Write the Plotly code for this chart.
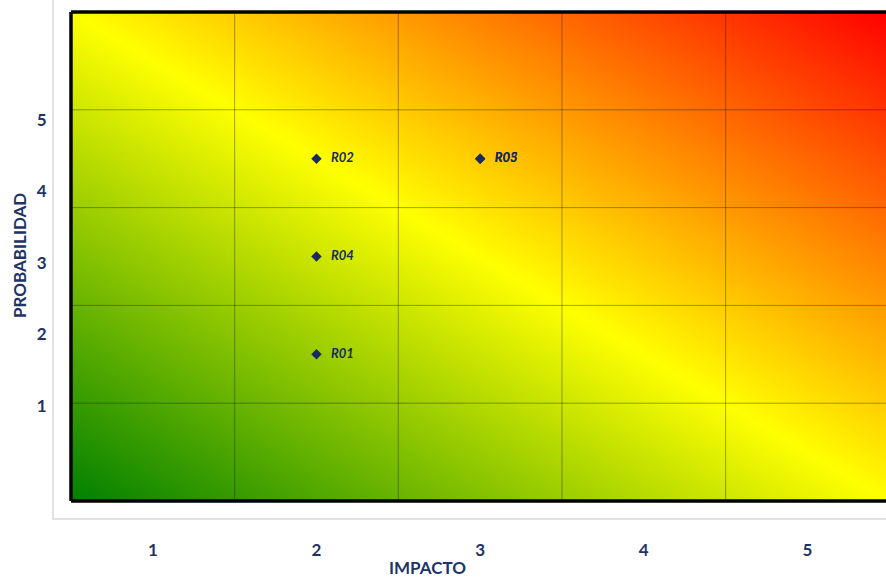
import plotly.graph_objects as go

# ---- data ----
risk_ids = ["R01", "R02", "R03", "R04", "R05"]
impacto = [2, 2, 3, 2, 3]
probabilidad = [2, 4, 4, 3, 4]
impact_levels = [1, 2, 3, 4, 5]
prob_levels = [1, 2, 3, 4, 5]
impact_labels = ["1", "2", "3", "4", "5"]
prob_labels = ["1", "2", "3", "4", "5"]

# background gradient corners (low risk -> high risk)
gradient_z = [[0.0, 0.5], [0.5, 1.0]]

NAVY = "#1F3366"
FONT = "Lato"

lo = impact_levels[0] - 0.5
hi = impact_levels[-1] + 0.5

fig = go.Figure()

# diagonal green-yellow-red background
fig.add_trace(go.Heatmap(
    x=[lo, hi], y=[lo, hi], z=gradient_z,
    zmin=0, zmax=1, zsmooth="best",
    colorscale=[[0, "#008000"], [0.5, "#FFFF00"], [1, "#FF0000"]],
    showscale=False, hoverinfo="skip",
))

# risk points
fig.add_trace(go.Scatter(
    x=impacto, y=probabilidad, mode="markers+text",
    text=["   " + r for r in risk_ids], textposition="middle right",
    textfont=dict(family=FONT, size=13, color="#1A2A5E", weight="bold", style="italic"),
    marker=dict(symbol="diamond", size=8, color="#1A2A5E"),
    hoverinfo="text", showlegend=False,
))

# invisible trace to activate the secondary y axis for labels
fig.add_trace(go.Scatter(x=[None], y=[None], yaxis="y2", showlegend=False,
                         hoverinfo="skip"))

shapes = []
# white frame
shapes.append(dict(type="rect", xref="paper", yref="paper",
                   x0=-0.0221, x1=1.05, y0=-0.0368, y1=1.05,
                   line=dict(color="#D9D9D9", width=1.5), fillcolor="white",
                   layer="below"))
# inner grid
for b in impact_levels[:-1]:
    shapes.append(dict(type="line", xref="x", yref="paper", x0=b + 0.5, x1=b + 0.5,
                       y0=0, y1=1, line=dict(color="rgba(20,20,0,0.38)", width=1),
                       layer="above"))
for b in prob_levels[:-1]:
    shapes.append(dict(type="line", xref="paper", yref="y", x0=0, x1=1,
                       y0=b + 0.5, y1=b + 0.5,
                       line=dict(color="rgba(20,20,0,0.38)", width=1), layer="above"))
# thick border (left, top, bottom)
for s in [dict(x0=0, x1=0, y0=0, y1=1), dict(x0=0, x1=1.01, y0=1, y1=1),
          dict(x0=0, x1=1.01, y0=0, y1=0)]:
    shapes.append(dict(type="line", xref="paper", yref="paper",
                       line=dict(color="black", width=3.5), layer="above", **s))

fig.update_layout(
    width=886, height=579,
    margin=dict(l=71, r=0, t=12, b=78),
    paper_bgcolor="white", plot_bgcolor="white",
    showlegend=False,
    shapes=shapes,
    xaxis=dict(range=[lo, hi - 0.02], tickvals=impact_levels, ticktext=impact_labels,
               showgrid=False, zeroline=False, showline=False,
               ticks="outside", ticklen=34, tickcolor="rgba(0,0,0,0)",
               tickfont=dict(family=FONT, size=17, color=NAVY, weight="bold")),
    yaxis=dict(range=[lo, hi], showticklabels=False, showgrid=False,
               zeroline=False, showline=False),
    yaxis2=dict(overlaying="y", side="left", range=[-0.329, 6.51],
                tickvals=prob_levels, ticktext=prob_labels,
                showgrid=False, zeroline=False, showline=False,
                ticks="outside", ticklen=20, tickcolor="rgba(0,0,0,0)",
                tickfont=dict(family=FONT, size=17, color=NAVY, weight="bold")),
    annotations=[
        dict(text="PROBABILIDAD", xref="paper", yref="paper", x=-0.0638, y=0.501,
             textangle=-90, showarrow=False, xanchor="center", yanchor="middle",
             font=dict(family=FONT, size=17, color=NAVY, weight="bold")),
        dict(text="IMPACTO", xref="paper", yref="paper", x=0.437, y=-0.137,
             showarrow=False, xanchor="center", yanchor="middle",
             font=dict(family=FONT, size=17, color=NAVY, weight="bold")),
    ],
)

fig.write_html(
    "out.html",
    config={"displayModeBar": False},
    post_script="document.body.style.margin='0';document.body.style.overflow='hidden';",
)
